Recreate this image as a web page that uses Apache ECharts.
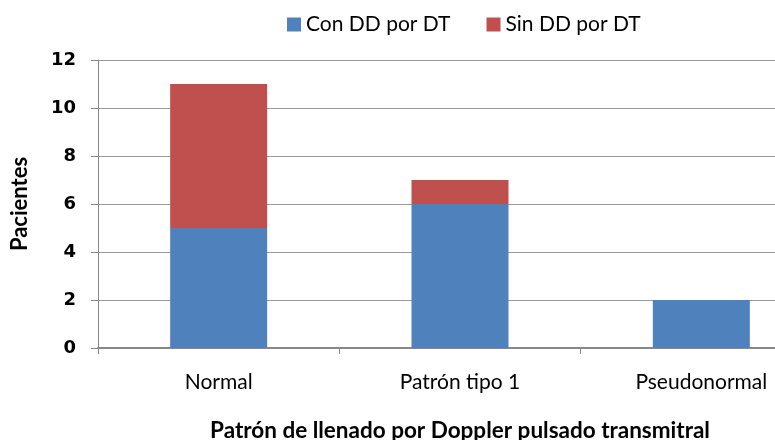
<!DOCTYPE html>
<html>
<head>
<meta charset="utf-8">
<script src="https://cdn.jsdelivr.net/npm/echarts@6/dist/echarts.min.js"></script>
<style>
  html, body { margin: 0; padding: 0; background: #fff; }
  #chart { width: 775px; height: 440px; }
</style>
</head>
<body>
<div id="chart"></div>
<script>
// Patrones de llenado y número de pacientes en cada grupo
const categories = ['Normal', 'Patrón tipo 1', 'Pseudonormal'];
const conDD = [5, 6, 2];
const sinDD = [6, 1, 0];
const yTicks = [0, 2, 4, 6, 8, 10, 12];

const chart = echarts.init(document.getElementById('chart'));
chart.setOption({
  animation: false,
  backgroundColor: '#ffffff',
  legend: {
    top: 9,
    left: 282,
    itemWidth: 14,
    itemHeight: 14,
    itemGap: 36,
    icon: 'rect',
    textStyle: { fontFamily: 'Lato', fontSize: 21, color: '#000' },
    data: ['Con DD por DT', 'Sin DD por DT']
  },
  grid: { left: 98, top: 60, width: 724, height: 288, outerBoundsMode: 'none', containLabel: false },
  xAxis: {
    type: 'category',
    data: categories,
    name: 'Patrón de llenado por Doppler pulsado transmitral',
    nameLocation: 'middle',
    nameGap: 71,
    nameTextStyle: { fontFamily: 'Lato', fontWeight: 'bold', fontSize: 22.5, color: '#000' },
    axisLine: { lineStyle: { color: '#888', width: 2 } },
    axisTick: { show: true, length: 6, lineStyle: { color: '#888' } },
    axisLabel: { margin: 24, fontFamily: 'Lato', fontSize: 21, color: '#000' }
  },
  yAxis: {
    type: 'value',
    min: yTicks[0],
    max: yTicks[yTicks.length - 1],
    interval: 2,
    name: 'Pacientes',
    nameLocation: 'middle',
    nameGap: 67,
    nameRotate: 90,
    nameTextStyle: { fontFamily: 'Lato', fontWeight: 'bold', fontSize: 22, color: '#000' },
    axisLine: { show: true, lineStyle: { color: '#888', width: 1 } },
    axisTick: { show: true, length: 7, lineStyle: { color: '#888' } },
    axisLabel: { margin: 22, fontFamily: 'DejaVu Sans', fontWeight: 'bold', fontSize: 18, color: '#000' },
    splitLine: { lineStyle: { color: '#999', width: 1 } }
  },
  series: [
    {
      name: 'Con DD por DT',
      type: 'bar',
      stack: 'total',
      barWidth: 97,
      itemStyle: { color: '#4F81BD' },
      data: conDD
    },
    {
      name: 'Sin DD por DT',
      type: 'bar',
      stack: 'total',
      barWidth: 97,
      itemStyle: { color: '#C0504D' },
      data: sinDD
    }
  ]
});
</script>
</body>
</html>
